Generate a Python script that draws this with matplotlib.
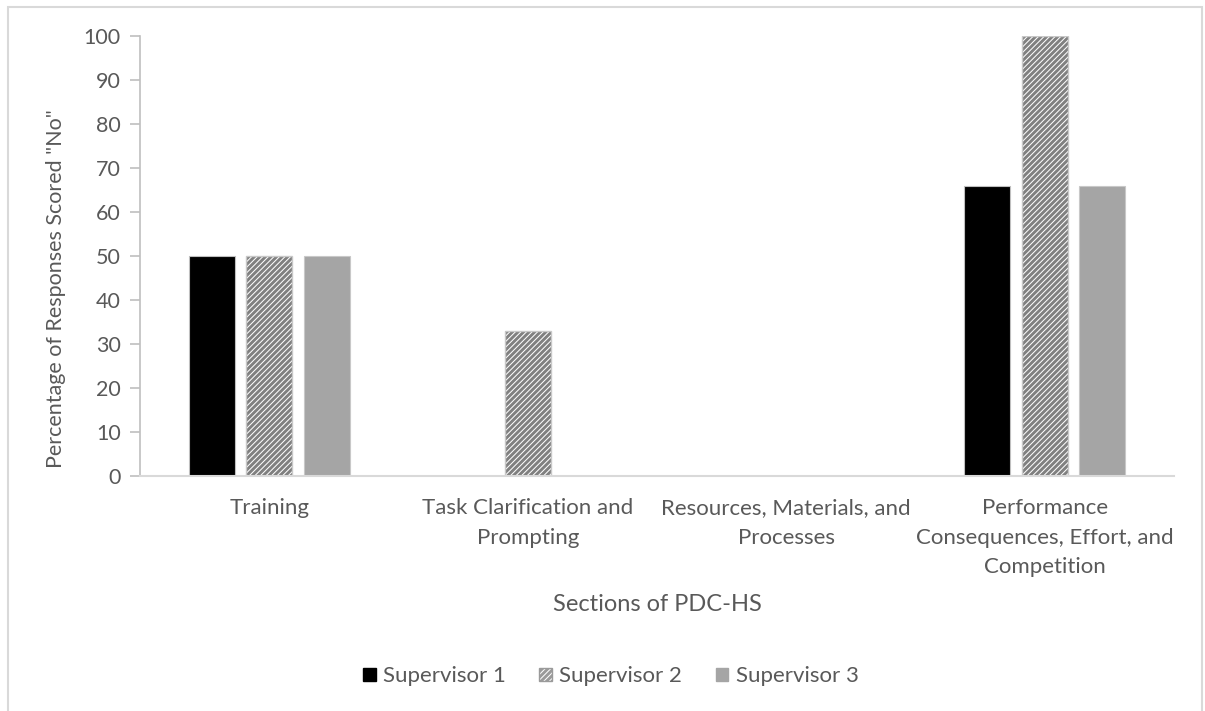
import matplotlib
matplotlib.use("Agg")
import matplotlib.pyplot as plt
from matplotlib.patches import Rectangle
import numpy as np

categories = [
    "Training",
    "Task Clarification and\nPrompting",
    "Resources, Materials, and\nProcesses",
    "Performance\nConsequences, Effort, and\nCompetition",
]
series_names = ["Supervisor 1", "Supervisor 2", "Supervisor 3"]
supervisor1 = [50, 0, 0, 66]
supervisor2 = [50, 33, 0, 100]
supervisor3 = [50, 0, 0, 66]
y_ticks = list(range(0, 101, 10))

plt.rcParams["font.family"] = ["Lato", "DejaVu Sans"]
plt.rcParams["hatch.linewidth"] = 2.1
text_color = "#595959"
axis_color = "#d9d9d9"

fig = plt.figure(figsize=(12.05, 7.11), dpi=100)
ax = fig.add_axes([0.1162, 0.3305, 0.8581, 0.6189])

x = np.arange(len(categories))
width = 0.178
step = 0.222

ax.bar(x - step, supervisor1, width, color="black", edgecolor="#bfbfbf",
       linewidth=0.8, label=series_names[0])
# hatched bars: stripes drawn in grey, then a light outline on top
ax.bar(x, supervisor2, width, color="white", edgecolor="#808080",
       hatch="//////", linewidth=0)
ax.bar(x, supervisor2, width, color="none", edgecolor="#c8c8c8",
       linewidth=1.0)
ax.bar(x + step, supervisor3, width, color="#a5a5a5", edgecolor="#c8c8c8",
       linewidth=0.8, label=series_names[2])

ax.set_xlim(-0.5, len(categories) - 0.5)
ax.set_ylim(0, 100)
ax.set_yticks(y_ticks)
ax.set_xticks(x)
ax.set_xticklabels(categories, linespacing=1.6)

for side in ("top", "right"):
    ax.spines[side].set_visible(False)
ax.spines["left"].set_color("#bfbfbf")
ax.spines["left"].set_linewidth(1.2)
ax.spines["bottom"].set_color(axis_color)
ax.spines["bottom"].set_linewidth(1.5)

ax.tick_params(axis="y", colors="#bfbfbf", labelcolor=text_color,
               labelsize=15.5, length=7, width=1.2, pad=7)
ax.tick_params(axis="x", length=0, labelcolor=text_color, labelsize=16, pad=16)

ax.set_ylabel('Percentage of Responses Scored "No"', color=text_color,
              fontsize=15.5)
ax.yaxis.set_label_coords(-0.0716, 0.425)
ax.set_xlabel("Sections of PDC-HS", color=text_color, fontsize=17, labelpad=12)

handles = [
    Rectangle((0, 0), 1, 1, facecolor="black", edgecolor="black"),
    Rectangle((0, 0), 1, 1, facecolor="white", edgecolor="#9a9a9a", hatch="//////"),
    Rectangle((0, 0), 1, 1, facecolor="#a5a5a5", edgecolor="#a5a5a5"),
]
leg = fig.legend(handles, series_names, loc="center", bbox_to_anchor=(0.507, 0.049),
                 ncol=3, frameon=False, fontsize=16, handlelength=0.55,
                 handleheight=0.55, handletextpad=0.35, columnspacing=1.5)
for t in leg.get_texts():
    t.set_color(text_color)

# chart-area border
fig.patches.append(Rectangle((8 / 1205, -0.01), 1194 / 1205, 1 - 7 / 711 + 0.01,
                             transform=fig.transFigure, fill=False,
                             edgecolor=axis_color, linewidth=1.5))

fig.savefig("out.png", dpi=100, facecolor="white")
